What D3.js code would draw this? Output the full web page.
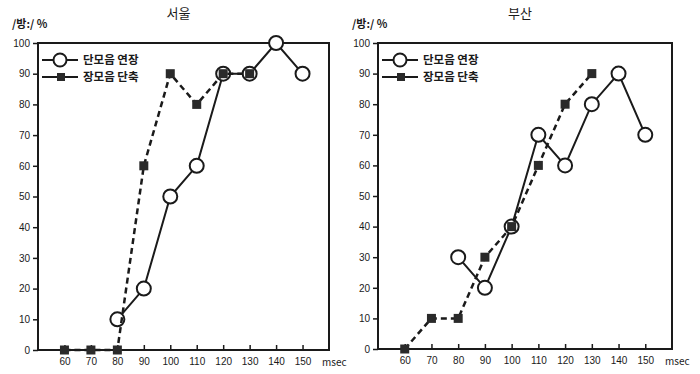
<!DOCTYPE html>
<html>
<head>
<meta charset="UTF-8">
<style>
  body { margin: 0; background: #fff; }
  svg { display: block; }
  text { font-family: "Noto Sans CJK KR", "Liberation Sans", sans-serif; fill: #1a1a1a; }
  .tick text { font-family: "Liberation Sans", Arial, sans-serif; font-size: 10px; }
</style>
</head>
<body>
<svg id="chart" width="700" height="374"></svg>
<script src="https://d3js.org/d3.v7.min.js"></script>
<script>
// msec values on the x axis
const msec = [60, 70, 80, 90, 100, 110, 120, 130, 140, 150];
const yTicks = [0, 10, 20, 30, 40, 50, 60, 70, 80, 90, 100];
const seriesNames = ["단모음 연장", "장모음 단축"];

// 서울
const seoulShortX = [80, 90, 100, 110, 120, 130, 140, 150];
const seoulShortY = [10, 20, 50, 60, 90, 90, 100, 90];
const seoulLongX = [60, 70, 80, 90, 100, 110, 120, 130];
const seoulLongY = [0, 0, 0, 60, 90, 80, 90, 90];

// 부산
const busanShortX = [80, 90, 100, 110, 120, 130, 140, 150];
const busanShortY = [30, 20, 40, 70, 60, 80, 90, 70];
const busanLongX = [60, 70, 80, 90, 100, 110, 120, 130];
const busanLongY = [0, 10, 10, 30, 40, 60, 80, 90];

const svg = d3.select("#chart");
const ink = "#1a1a1a";

function panel(title, left, right, top, bottom, sx, sy, lx, ly) {
  let x = d3.scaleLinear().domain([50, 160]).range([left, right]);
  let y = d3.scaleLinear().domain([0, 100]).range([bottom, top]);
  let g = svg.append("g");

  // frame
  g.append("rect")
    .attr("x", left).attr("y", top)
    .attr("width", right - left).attr("height", bottom - top)
    .attr("fill", "none").attr("stroke", ink).attr("stroke-width", 2);

  let xa = g.append("g")
    .attr("transform", "translate(0," + bottom + ")")
    .call(d3.axisBottom(x).tickValues(msec).tickSizeInner(-5).tickSizeOuter(0).tickPadding(8));
  xa.select(".domain").remove();
  xa.selectAll("line").attr("stroke", ink).attr("stroke-width", 1.5);

  let ya = g.append("g")
    .attr("transform", "translate(" + left + ",0)")
    .call(d3.axisLeft(y).tickValues(yTicks).tickSizeInner(5).tickSizeOuter(0).tickPadding(3));
  ya.select(".domain").remove();
  ya.selectAll("line").attr("stroke", ink).attr("stroke-width", 1.5);

  g.append("text").attr("x", right - 7).attr("y", bottom + 16)
    .attr("font-family", "Liberation Sans, Arial, sans-serif")
    .attr("font-size", 10).text("msec");

  g.append("text").attr("x", (left + right) / 2 - 5).attr("y", 18)
    .attr("text-anchor", "middle").attr("font-size", 13).text(title);

  g.append("text").attr("x", left - 26).attr("y", 28)
    .attr("font-size", 11).attr("font-weight", "bold").text("/방:/ %");

  let line = d3.line().x(d => x(d[0])).y(d => y(d[1]));
  let shortPts = d3.zip(sx, sy);
  let longPts = d3.zip(lx, ly);

  g.append("path").datum(shortPts).attr("d", line)
    .attr("fill", "none").attr("stroke", ink).attr("stroke-width", 2);
  g.selectAll("circle.pt").data(shortPts).join("circle")
    .attr("class", "pt")
    .attr("cx", d => x(d[0])).attr("cy", d => y(d[1])).attr("r", 7)
    .attr("fill", "#fff").attr("stroke", ink).attr("stroke-width", 2);

  g.append("path").datum(longPts).attr("d", line)
    .attr("fill", "none").attr("stroke", ink).attr("stroke-width", 2.5)
    .attr("stroke-dasharray", "6,4");
  g.selectAll("rect.pt").data(longPts).join("rect")
    .attr("class", "pt")
    .attr("x", d => x(d[0]) - 4.5).attr("y", d => y(d[1]) - 4.5)
    .attr("width", 9).attr("height", 9).attr("fill", "#2a2a2a");

  // legend
  let lg = g.append("g");
  lg.append("line").attr("x1", left + 4).attr("x2", left + 40)
    .attr("y1", top + 17).attr("y2", top + 17).attr("stroke", ink).attr("stroke-width", 2);
  lg.append("circle").attr("cx", left + 22).attr("cy", top + 17).attr("r", 6.5)
    .attr("fill", "#fff").attr("stroke", ink).attr("stroke-width", 2);
  lg.append("text").attr("x", left + 45).attr("y", top + 21)
    .attr("font-size", 11.5).attr("font-weight", "bold").text(seriesNames[0]);
  lg.append("line").attr("x1", left + 4).attr("x2", left + 40)
    .attr("y1", top + 34).attr("y2", top + 34).attr("stroke", ink).attr("stroke-width", 2);
  lg.append("rect").attr("x", left + 19).attr("y", top + 30)
    .attr("width", 8).attr("height", 8).attr("fill", "#2a2a2a");
  lg.append("text").attr("x", left + 45).attr("y", top + 38)
    .attr("font-size", 11.5).attr("font-weight", "bold").text(seriesNames[1]);
}

panel("서울", 38, 329, 43, 350, seoulShortX, seoulShortY, seoulLongX, seoulLongY);
panel("부산", 378, 672, 43, 349, busanShortX, busanShortY, busanLongX, busanLongY);
</script>
</body>
</html>
